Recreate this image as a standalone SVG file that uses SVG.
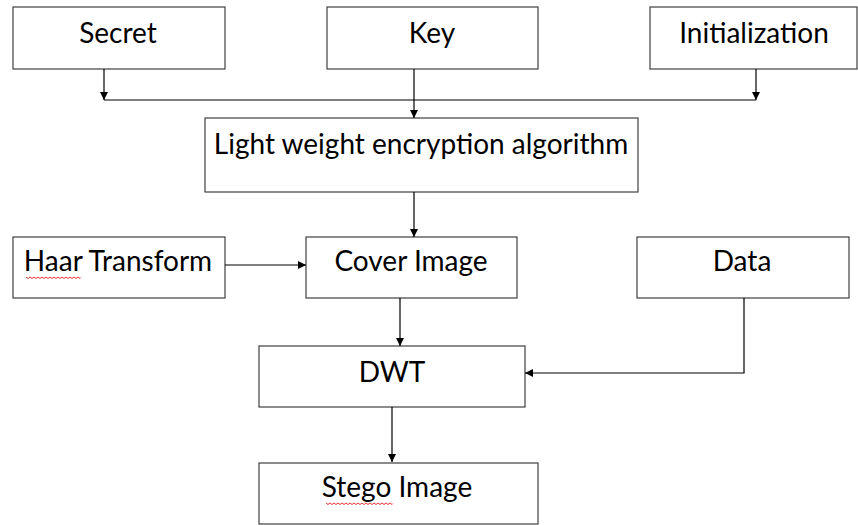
<svg xmlns="http://www.w3.org/2000/svg" width="858" height="525" viewBox="0 0 858 525">
<defs>
<style>
.box{fill:#fff;stroke:#404040;stroke-width:1.2}
.lbl{font-family:Lato,"Open Sans","Liberation Sans",sans-serif;font-size:28px;fill:#000;text-anchor:middle}
.ln{fill:none;stroke:#000;stroke-width:1.2}
.sq{fill:none;stroke:#e02020;stroke-width:0.9}
</style>
<marker id="ah" viewBox="0 0 10 10" refX="10" refY="5" markerWidth="9" markerHeight="8" markerUnits="userSpaceOnUse" orient="auto">
<path d="M0,0 L10,5 L0,10 z" fill="#000"/>
</marker>
</defs>
<rect width="858" height="525" fill="#fff"/>
<g id="secret"><rect class="box" x="13" y="7" width="212" height="62"/><text class="lbl" x="118" y="43">Secret</text></g>
<g id="key"><rect class="box" x="327" y="7" width="211" height="62"/><text class="lbl" x="432" y="43">Key</text></g>
<g id="init"><rect class="box" x="650" y="7" width="207" height="62"/><text class="lbl" x="754" y="43">Initialization</text></g>
<g id="lwea"><rect class="box" x="205" y="118" width="433" height="74"/><text class="lbl" x="421" y="154">Light weight encryption algorithm</text></g>
<g id="haar"><rect class="box" x="13" y="237" width="212" height="61"/><text class="lbl" x="118" y="271">Haar Transform</text><path class="sq" d="M26,277 l2,1.5 l2,-1.5 l2,1.5 l2,-1.5 l2,1.5 l2,-1.5 l2,1.5 l2,-1.5 l2,1.5 l2,-1.5 l2,1.5 l2,-1.5 l2,1.5 l2,-1.5 l2,1.5 l2,-1.5 l2,1.5 l2,-1.5 l2,1.5 l2,-1.5 l2,1.5 l2,-1.5 l2,1.5 l2,-1.5 l2,1.5 l2,-1.5 l2,1.5 l1,-1"/></g>
<g id="cover"><rect class="box" x="306" y="237" width="211" height="61"/><text class="lbl" x="411" y="271">Cover Image</text></g>
<g id="data"><rect class="box" x="637" y="237" width="212" height="61"/><text class="lbl" x="742" y="271">Data</text></g>
<g id="dwt"><rect class="box" x="259" y="346" width="266" height="61"/><text class="lbl" x="392" y="382">DWT</text></g>
<g id="stego"><rect class="box" x="259" y="463" width="279" height="61"/><text class="lbl" x="397" y="497">Stego Image</text><path class="sq" d="M326,503 l2,1.5 l2,-1.5 l2,1.5 l2,-1.5 l2,1.5 l2,-1.5 l2,1.5 l2,-1.5 l2,1.5 l2,-1.5 l2,1.5 l2,-1.5 l2,1.5 l2,-1.5 l2,1.5 l2,-1.5 l2,1.5 l2,-1.5 l2,1.5 l2,-1.5 l2,1.5 l2,-1.5 l2,1.5 l2,-1.5 l2,1.5 l2,-1.5 l2,1.5 l2,-1.5 l2,1.5 l2,-1.5 l2,1.5 l2,-1.5 l2,1.5 l1,-1"/></g>
<g id="connectors">
<line class="ln" x1="104" y1="100" x2="756" y2="100"/>
<line class="ln" x1="104" y1="69" x2="104" y2="100" marker-end="url(#ah)"/>
<line class="ln" x1="756" y1="69" x2="756" y2="100" marker-end="url(#ah)"/>
<line class="ln" x1="414" y1="69" x2="414" y2="118" marker-end="url(#ah)"/>
<line class="ln" x1="414" y1="192" x2="414" y2="237" marker-end="url(#ah)"/>
<line class="ln" x1="225" y1="265" x2="306" y2="265" marker-end="url(#ah)"/>
<line class="ln" x1="400" y1="298" x2="400" y2="346" marker-end="url(#ah)"/>
<polyline class="ln" points="744,298 744,373 525,373" marker-end="url(#ah)"/>
<line class="ln" x1="392" y1="407" x2="392" y2="462" marker-end="url(#ah)"/>
</g>
</svg>
